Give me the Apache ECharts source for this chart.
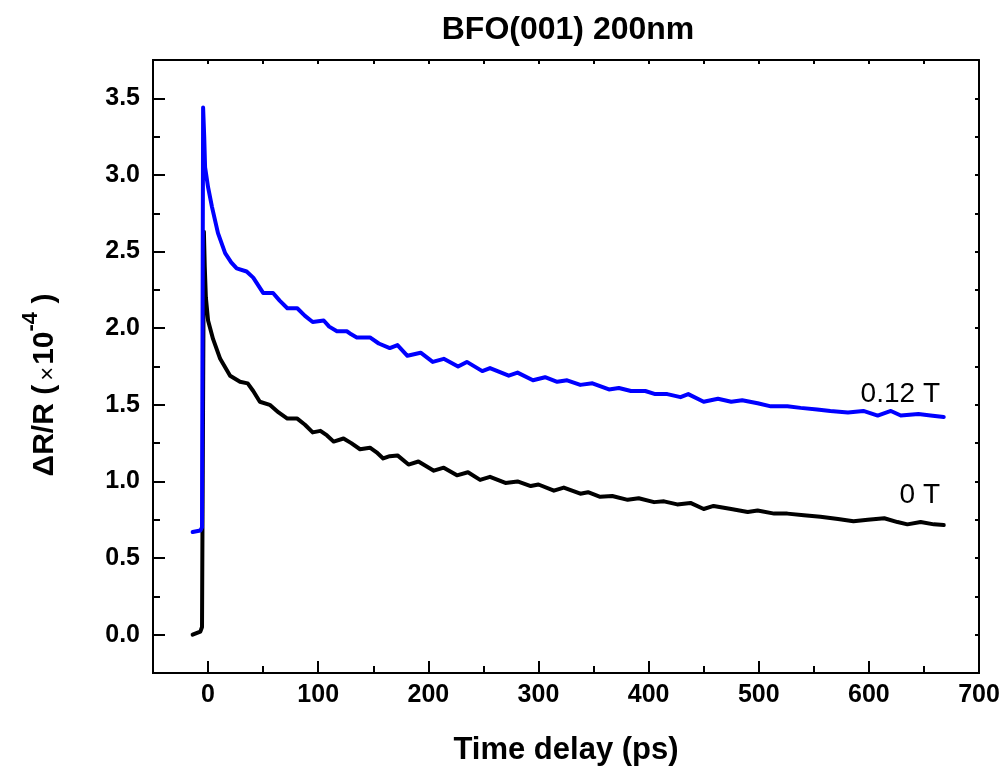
<!DOCTYPE html>
<html>
<head>
<meta charset="utf-8">
<title>BFO(001) 200nm</title>
<script src="https://cdn.jsdelivr.net/npm/echarts@6.0.0/dist/echarts.min.js"></script>
<style>
  html, body { margin: 0; padding: 0; background: #fff; }
  #chart { width: 1005px; height: 771px; }
</style>
</head>
<body>
<div id="chart"></div>
<script>
// tick positions
const xMajorTicks = [0, 100, 200, 300, 400, 500, 600, 700]
const xMinorTicks = [-50, 50, 150, 250, 350, 450, 550, 650]
const yMajorTicks = [0, 0.5, 1, 1.5, 2, 2.5, 3, 3.5]
const yMinorTicks = [-0.25, 0.25, 0.75, 1.25, 1.75, 2.25, 2.75, 3.25, 3.75]

// [time delay (ps), dR/R (x1e-4)]
const field012T = [
  [-14, 0.67], [-7, 0.68], [-5.5, 0.70], [-4.5, 3.44], [-3.5, 3.25], [-2.7, 3.05],
  [0, 2.92], [3.6, 2.79], [9, 2.62], [15.5, 2.49], [21, 2.43], [26, 2.39],
  [35, 2.37], [41, 2.33], [50, 2.23], [59, 2.23], [65, 2.18], [72, 2.13],
  [81, 2.13], [88, 2.08], [95, 2.04], [105, 2.05], [110, 2.01], [117, 1.98],
  [126, 1.98], [130, 1.96], [135, 1.94], [147, 1.94], [155, 1.90], [165, 1.87],
  [172, 1.89], [181, 1.82], [193, 1.84], [204, 1.78], [214, 1.80], [227, 1.75],
  [235, 1.78], [249, 1.72], [256, 1.74], [273, 1.69], [281, 1.71], [295, 1.66],
  [306, 1.68], [317, 1.65], [326, 1.66], [338, 1.63], [349, 1.64], [364, 1.60],
  [373, 1.61], [384, 1.59], [397, 1.59], [406, 1.57], [417, 1.57], [429, 1.55],
  [436, 1.57], [450, 1.52], [463, 1.54], [475, 1.52], [485, 1.53], [499, 1.51],
  [511, 1.49], [526, 1.49], [538, 1.48], [553, 1.47], [565, 1.46], [581, 1.45],
  [595, 1.46], [608, 1.43], [620, 1.46], [629, 1.43], [645, 1.44], [656, 1.43],
  [668, 1.42]
]

const field0T = [
  [-14, 0.0], [-7, 0.02], [-5.5, 0.05], [-3.8, 2.63], [-3, 2.40], [-2, 2.20],
  [0, 2.05], [4.5, 1.93], [11, 1.80], [20, 1.69], [29, 1.65], [36, 1.64],
  [41, 1.59], [47, 1.52], [56, 1.50], [64, 1.45], [72, 1.41], [81, 1.41],
  [88, 1.37], [95, 1.32], [102, 1.33], [108, 1.30], [114, 1.26], [123, 1.28],
  [130, 1.25], [138, 1.21], [147, 1.22], [153, 1.19], [159, 1.15], [165, 1.165],
  [172, 1.17], [182, 1.11], [191, 1.13], [205, 1.07], [214, 1.09], [226, 1.04],
  [236, 1.06], [247, 1.01], [256, 1.03], [270, 0.99], [281, 1.00], [293, 0.97],
  [300, 0.98], [314, 0.94], [323, 0.96], [338, 0.92], [345, 0.93], [356, 0.90],
  [367, 0.905], [381, 0.88], [391, 0.89], [405, 0.865], [414, 0.87], [426, 0.85],
  [438, 0.86], [450, 0.82], [459, 0.84], [475, 0.82], [490, 0.80], [499, 0.81],
  [514, 0.79], [526, 0.79], [541, 0.78], [556, 0.77], [572, 0.755], [586, 0.74],
  [599, 0.75], [614, 0.76], [626, 0.735], [635, 0.72], [647, 0.735], [659, 0.72],
  [668, 0.715]
]

const font = 'Liberation Sans, Arial, sans-serif'
const axisLine = { show: true, onZero: false, lineStyle: { color: '#000', width: 2 } }

function frameAxis(extra) {
  return Object.assign({
    type: 'value',
    axisLine: axisLine,
    splitLine: { show: false },
    axisLabel: { show: false },
    axisTick: { show: false }
  }, extra)
}

const chart = echarts.init(document.getElementById('chart'), null, { renderer: 'canvas' })

chart.setOption({
  animation: false,
  backgroundColor: '#fff',
  title: {
    text: 'BFO(001) 200nm',
    left: 563,
    top: 9,
    textAlign: 'center',
    textStyle: { fontFamily: font, fontSize: 32, fontWeight: 'bold', color: '#000' }
  },
  grid: { left: 153, right: 26, top: 60, bottom: 96 },
  xAxis: [
    frameAxis({
      position: 'bottom', min: -50, max: 700,
      name: 'Time delay (ps)',
      nameLocation: 'middle',
      nameGap: 62,
      nameTextStyle: { fontFamily: font, fontSize: 31, fontWeight: 'bold', color: '#000' },
      axisLabel: {
        show: true, customValues: xMajorTicks, margin: 10,
        fontFamily: font, fontSize: 25, fontWeight: 'bold', color: '#000'
      },
      axisTick: { show: true, inside: true, length: 12, customValues: xMajorTicks, lineStyle: { width: 2, color: '#000' } }
    }),
    frameAxis({
      position: 'bottom', min: -50, max: 700,
      axisTick: { show: true, inside: true, length: 7, customValues: xMinorTicks, lineStyle: { width: 2, color: '#000' } }
    }),
    frameAxis({
      position: 'top', min: -50, max: 700,
      axisTick: { show: true, inside: true, length: 4, customValues: xMajorTicks.concat(xMinorTicks), lineStyle: { width: 2, color: '#000' } }
    })
  ],
  yAxis: [
    frameAxis({
      position: 'left', min: -0.25, max: 3.75,
      axisLabel: {
        show: true, customValues: yMajorTicks, margin: 13,
        formatter: v => v.toFixed(1),
        fontFamily: font, fontSize: 25, fontWeight: 'bold', color: '#000'
      },
      axisTick: { show: true, inside: true, length: 12, customValues: yMajorTicks, lineStyle: { width: 2, color: '#000' } }
    }),
    frameAxis({
      position: 'left', min: -0.25, max: 3.75,
      axisTick: { show: true, inside: true, length: 7, customValues: yMinorTicks, lineStyle: { width: 2, color: '#000' } }
    }),
    frameAxis({
      position: 'right', min: -0.25, max: 3.75,
      axisTick: { show: true, inside: true, length: 4, customValues: yMajorTicks.concat(yMinorTicks), lineStyle: { width: 2, color: '#000' } }
    })
  ],
  graphic: [
    {
      type: 'text',
      x: 40,
      y: 385,
      rotation: Math.PI / 2,
      style: {
        text: '{b|ΔR/R (}{x|×}{b|10}{s|-4}{b| )}',
        align: 'center',
        verticalAlign: 'middle',
        fill: '#000',
        rich: {
          b: { fontFamily: font, fontSize: 30, fontWeight: 'bold', lineHeight: 40, verticalAlign: 'bottom' },
          x: { fontFamily: font, fontSize: 24, fontWeight: 'normal', lineHeight: 40, verticalAlign: 'bottom', padding: [0, 2, 0, 4] },
          s: { fontFamily: font, fontSize: 22, fontWeight: 'bold', lineHeight: 40, verticalAlign: 'top' }
        }
      }
    },
    {
      type: 'text',
      right: 65,
      top: 380,
      style: { text: '0.12 T', fontFamily: font, fontSize: 28, fill: '#000' }
    },
    {
      type: 'text',
      right: 65,
      top: 481,
      style: { text: '0 T', fontFamily: font, fontSize: 28, fill: '#000' }
    }
  ],
  series: [
    {
      name: '0 T',
      type: 'line',
      data: field0T,
      showSymbol: false,
      lineStyle: { color: '#000', width: 4, cap: 'round', join: 'round' },
      itemStyle: { color: '#000' },
      z: 3
    },
    {
      name: '0.12 T',
      type: 'line',
      data: field012T,
      showSymbol: false,
      lineStyle: { color: '#0000ff', width: 4, cap: 'round', join: 'round' },
      itemStyle: { color: '#0000ff' },
      z: 4
    }
  ]
})
</script>
</body>
</html>
